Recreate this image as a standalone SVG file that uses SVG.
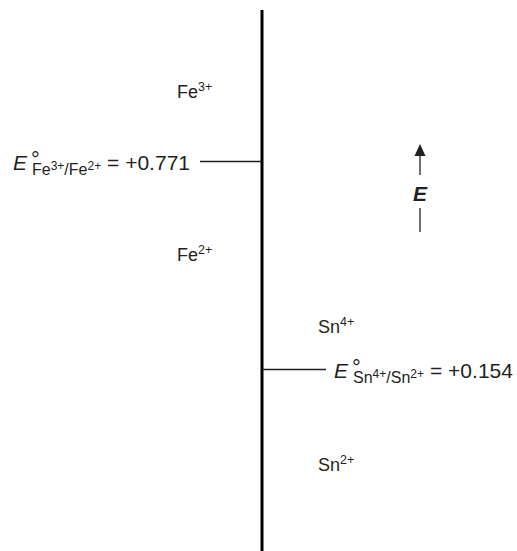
<svg xmlns="http://www.w3.org/2000/svg" width="517" height="551" viewBox="0 0 517 551">
<style>
text{font-family:"Liberation Sans",Arial,sans-serif;font-size:18px;fill:#231f20}
.sup{font-size:12.5px}
.eq{font-size:21px}
.sub{font-size:16px}
.ss{font-size:12px}
.deg{font-size:22px}
.ln{stroke:#231f20;stroke-width:1.3;fill:none}
</style>
<g id="connectors">
<line x1="262" y1="10" x2="262" y2="551" stroke="#000" stroke-width="3"/>
<line class="ln" x1="200" y1="161.5" x2="262" y2="161.5"/>
<line class="ln" x1="262" y1="369.5" x2="326" y2="369.5"/>
<line class="ln" x1="420" y1="175" x2="420" y2="156"/>
<path d="M414.5,156 L420,144 L425.5,156 Z" fill="#231f20"/>
<line class="ln" x1="420" y1="208" x2="420" y2="232"/>
</g>
<g id="fe3"><text x="177" y="98">Fe<tspan class="sup" dy="-7">3+</tspan></text></g>
<g id="fe2"><text x="177" y="261">Fe<tspan class="sup" dy="-7">2+</tspan></text></g>
<g id="sn4"><text x="318" y="333">Sn<tspan class="sup" dy="-7">4+</tspan></text></g>
<g id="sn2"><text x="318" y="471">Sn<tspan class="sup" dy="-7">2+</tspan></text></g>
<g id="efe">
<text x="13" y="169.5" class="eq"><tspan font-style="italic">E</tspan><tspan class="deg" x="31" dy="-2.5">°</tspan><tspan class="sub" x="32" dy="8">Fe</tspan><tspan class="ss" dy="-5">3+</tspan><tspan class="sub" dy="5">/Fe</tspan><tspan class="ss" dy="-5">2+</tspan><tspan x="190" dy="-0.5" text-anchor="end">= +0.771</tspan></text>
</g>
<g id="esn">
<text x="334" y="377.5" class="eq"><tspan font-style="italic">E</tspan><tspan class="deg" x="352" dy="-2.5">°</tspan><tspan class="sub" x="353" dy="8">Sn</tspan><tspan class="ss" dy="-5">4+</tspan><tspan class="sub" dy="5">/Sn</tspan><tspan class="ss" dy="-5">2+</tspan><tspan x="430" dy="-0.5">= +0.154</tspan></text>
</g>
<g id="efield"><text x="413" y="201" class="eq" font-weight="bold" font-style="italic">E</text></g>
</svg>
